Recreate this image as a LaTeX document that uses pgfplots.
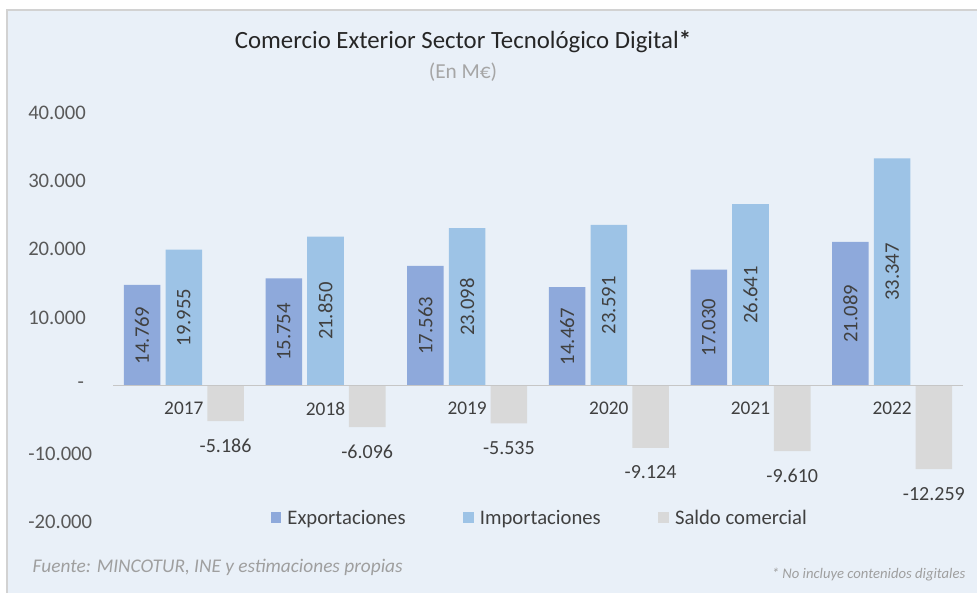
\documentclass[border=0pt]{standalone}
\usepackage{fontspec}
\setmainfont{Carlito}
\usepackage{pgfplots}
\usepackage{pgfplotstable}
\pgfplotsset{compat=1.18}
\definecolor{bgBlue}{HTML}{E9F0F8}
\definecolor{expBlue}{HTML}{8EA9DB}
\definecolor{impBlue}{HTML}{9DC3E6}
\definecolor{salGray}{HTML}{D9D9D9}
\definecolor{txtDark}{HTML}{404040}
\definecolor{txtGray}{HTML}{595959}

\pgfplotstableread{
x exp explab imp implab sal sallab
0 14769 14.769 19955 19.955 -5186 -5.186
1 15754 15.754 21850 21.850 -6096 -6.096
2 17563 17.563 23098 23.098 -5535 -5.535
3 14467 14.467 23591 23.591 -9124 -9.124
4 17030 17.030 26641 26.641 -9610 -9.610
5 21089 21.089 33347 33.347 -12259 -12.259
}\data

\pgfplotsset{
  inbar/.style={nodes near coords, point meta=explicit symbolic,
    visualization depends on={y \as \yv},
    nodes near coords align={center},
    nodes near coords style={shift={(axis direction cs:0,-\yv/2)}, rotate=90, anchor=center,
      font=\fontsize{15.5}{16}\selectfont, text=txtDark}},
}

\begin{document}
\begin{tikzpicture}
\begin{scope}[x=0.75pt,y=0.75pt]
\useasboundingbox (0,0) rectangle (977,592);
\fill[white] (0,0) rectangle (977,592);
\filldraw[fill=bgBlue, draw=gray!35, line width=1.2pt] (7,-5) rectangle (985,582);
\node[font=\fontsize{18.6}{20}\selectfont, text=black!85] at (463,550)
  {Comercio Exterior Sector Tecnológico Digital\textbf{*}};
\node[font=\fontsize{16}{18}\selectfont, text=gray!70] at (463,520) {(En M€)};
\node[anchor=west, font=\itshape\fontsize{14.5}{16}\selectfont, text=gray!75] at (28,25)
  {Fuente: MINCOTUR, INE y estimaciones propias};
\node[anchor=east, font=\itshape\fontsize{11}{12}\selectfont, text=gray!75] at (970,17)
  {* No incluye contenidos digitales};
\end{scope}

\begin{axis}[
  at={(84.75pt,52.5pt)}, anchor=south west, scale only axis,
  width=637.5pt, height=306.75pt,
  ybar, bar width=27.4pt,
  xmin=-0.5, xmax=5.5, ymin=-20000, ymax=40000,
  scaled y ticks=false,
  axis line style={draw=none}, tick style={draw=none},
  xtick={0,...,5}, xticklabels={2017,2018,2019,2020,2021,2022},
  xticklabel style={anchor=north, inner sep=0pt, yshift=94.5pt,
    font=\fontsize{14.5}{16}\selectfont, text=txtDark},
  ytick={-20000,-10000,0,10000,20000,30000,40000},
  yticklabels={-20.000,-10.000,\hspace*{37pt}-,10.000,20.000,30.000,40.000},
  yticklabel style={anchor=west, inner sep=0pt, xshift=-63.75pt,
    font=\fontsize{15.5}{16}\selectfont, text=txtGray},
  legend style={at={(0.5024,0.01)}, anchor=center, draw=none, fill=none,
    legend columns=3, font=\fontsize{15.5}{16}\selectfont, text=txtDark,
    /tikz/every odd column/.append style={column sep=2.5pt},
    /tikz/every even column/.append style={column sep=41pt}},
  legend image code/.code={\fill[#1] (0pt,-4.1pt) rectangle (8.2pt,4.1pt);},
]
\addplot[fill=expBlue, draw=none, bar shift=-31.3pt, inbar]
  table[x=x, y=exp, meta=explab] {\data};
\addplot[fill=impBlue, draw=none, bar shift=0pt, inbar]
  table[x=x, y=imp, meta=implab] {\data};
\addplot[fill=salGray, draw=none, bar shift=31.3pt, nodes near coords,
  point meta=explicit symbolic,
  nodes near coords style={anchor=north, yshift=-10pt,
    font=\fontsize{15}{16}\selectfont, text=txtDark}]
  table[x=x, y=sal, meta=sallab] {\data};
\draw[gray!45, line width=1.2pt] (axis cs:-0.5,0) -- (axis cs:5.5,0);
\legend{Exportaciones, Importaciones, Saldo comercial}
\end{axis}
\end{tikzpicture}
\end{document}
